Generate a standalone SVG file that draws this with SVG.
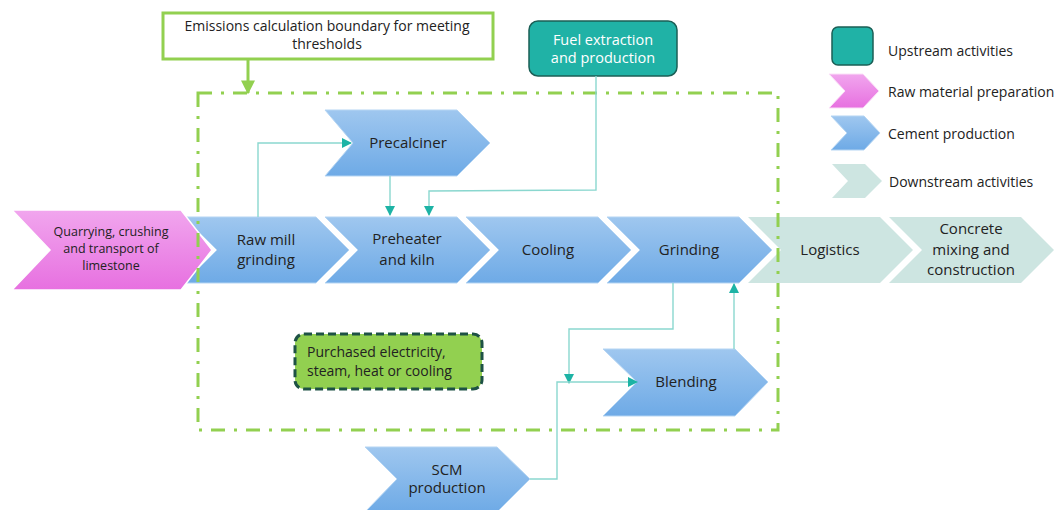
<svg xmlns="http://www.w3.org/2000/svg" width="1059" height="510" viewBox="0 0 1059 510">
<defs>
<linearGradient id="gBlue" x1="0" y1="0" x2="0" y2="1"><stop offset="0" stop-color="#9fc7ef"/><stop offset="1" stop-color="#6eaae6"/></linearGradient>
<linearGradient id="gPink" x1="0" y1="0" x2="0" y2="1"><stop offset="0" stop-color="#f1a6ee"/><stop offset="1" stop-color="#e770e0"/></linearGradient>
<marker id="ah" viewBox="0 0 10 10" refX="9" refY="5" markerWidth="10" markerHeight="10" markerUnits="userSpaceOnUse" orient="auto"><path d="M0,0 L10,5 L0,10 z" fill="#1db3a5"/></marker>
<marker id="gh" viewBox="0 0 10 10" refX="9" refY="5" markerWidth="14" markerHeight="14" markerUnits="userSpaceOnUse" orient="auto"><path d="M0,0 L10,5 L0,10 z" fill="#92d050"/></marker>
<style>
text{font-family:"Open Sans","Noto Sans","Liberation Sans",sans-serif;fill:#222;}
.t{font-size:15px;text-anchor:middle;}
.s{font-size:12.5px;text-anchor:middle;}
.l{font-size:14px;}
.blue{fill:url(#gBlue);stroke:#b5d5f3;stroke-width:1;}
.pink{fill:url(#gPink);stroke:#ffffff;stroke-width:1.5;}
.pinkl{fill:url(#gPink);stroke:#fbe0f8;stroke-width:1;}
.down{fill:#cde5e1;}
.conn{fill:none;stroke:#8ad7cf;stroke-width:1.4;}
</style>
</defs>
<rect width="1059" height="510" fill="#ffffff"/>

<g id="callout">
<rect x="163" y="13" width="330" height="46" fill="#fff" stroke="#92d050" stroke-width="3"/>
<text class="l" x="327" y="31" text-anchor="middle">Emissions calculation boundary for meeting</text>
<text class="l" x="327" y="49" text-anchor="middle">thresholds</text>
<line x1="248" y1="59" x2="248" y2="93" stroke="#92d050" stroke-width="3" marker-end="url(#gh)"/>
</g>

<g id="fuel">
<rect x="529" y="21" width="148" height="55" rx="9" fill="#20b2a6" stroke="#1b5f56" stroke-width="1.5"/>
<text class="l" x="603" y="45" text-anchor="middle" style="fill:#fff;font-size:14.5px">Fuel extraction</text>
<text class="l" x="603" y="63" text-anchor="middle" style="fill:#fff;font-size:14.5px">and production</text>
</g>

<g id="rawmill">
<path class="blue" d="M184,217 L316,217 L349,250 L316,283 L184,283 L217,250 Z"/>
<text class="t" x="266" y="245">Raw mill</text>
<text class="t" x="266" y="265">grinding</text>
</g>

<g id="quarrying">
<path class="pink" d="M12,210 L181,210 L212,250 L181,290 L12,290 L50,250 Z"/>
<text class="s" x="111" y="236">Quarrying, crushing</text>
<text class="s" x="111" y="253">and transport of</text>
<text class="s" x="111" y="270">limestone</text>
</g>

<g id="preheater">
<path class="blue" d="M325,217 L457,217 L490,250 L457,283 L325,283 L358,250 Z"/>
<text class="t" x="407" y="244">Preheater</text>
<text class="t" x="407" y="265">and kiln</text>
</g>

<g id="cooling">
<path class="blue" d="M466,217 L598,217 L631,250 L598,283 L466,283 L499,250 Z"/>
<text class="t" x="548" y="255">Cooling</text>
</g>

<g id="grinding">
<path class="blue" d="M607,217 L739,217 L772,250 L739,283 L607,283 L640,250 Z"/>
<text class="t" x="689" y="255">Grinding</text>
</g>

<g id="logistics">
<path class="down" d="M748,217 L880,217 L913,250 L880,283 L748,283 L781,250 Z"/>
<text class="t" x="830" y="255">Logistics</text>
</g>

<g id="concrete">
<path class="down" d="M889,217 L1021,217 L1054,250 L1021,283 L889,283 L922,250 Z"/>
<text class="t" x="971" y="234">Concrete</text>
<text class="t" x="971" y="255">mixing and</text>
<text class="t" x="971" y="275">construction</text>
</g>

<g id="boundary">
<rect x="198" y="93" width="580" height="337" fill="none" stroke="#92d050" stroke-width="3" stroke-dasharray="14 9 3 9"/>
</g>

<g id="precalciner">
<path class="blue" d="M325,110 L457,110 L490,143 L457,176 L325,176 L353,143 Z"/>
<text class="t" x="408" y="148">Precalciner</text>
</g>

<g id="blending">
<path class="blue" d="M603,349 L735,349 L768,382 L735,416 L603,416 L637,382 Z"/>
<text class="t" x="686" y="387">Blending</text>
</g>

<g id="scm">
<path class="blue" d="M365,447 L497,447 L530,479 L497,512 L365,512 L397,479 Z"/>
<text class="t" x="447" y="475">SCM</text>
<text class="t" x="447" y="493">production</text>
</g>

<g id="purchased">
<rect x="295" y="334" width="187" height="55" rx="9" fill="#92d050" stroke="#1e5245" stroke-width="3" stroke-dasharray="8 4"/>
<text class="l" x="307" y="357">Purchased electricity,</text>
<text class="l" x="307" y="376">steam, heat or cooling</text>
</g>

<g id="legend">
<rect x="832" y="27" width="41" height="38" rx="6" fill="#20b2a6" stroke="#1b5f56" stroke-width="1.5"/>
<text class="l" x="888" y="56">Upstream activities</text>
<path class="pinkl" d="M829,74 L863,74 L879,91 L863,108 L829,108 L845,91 Z"/>
<text class="l" x="888" y="97">Raw material preparation</text>
<path class="blue" d="M831,116 L864,116 L880,133 L864,150 L831,150 L847,133 Z"/>
<text class="l" x="888" y="139">Cement production</text>
<path class="down" d="M832,164 L865,164 L882,181 L865,198 L832,198 L848,181 Z"/>
<text class="l" x="889" y="187">Downstream activities</text>
</g>

<g id="connectors">
<polyline class="conn" points="258,217 258,143 351,143" marker-end="url(#ah)"/>
<polyline class="conn" points="390,176 390,215" marker-end="url(#ah)"/>
<polyline class="conn" points="596,76 596,190 429,191 429,215" marker-end="url(#ah)"/>
<polyline class="conn" points="673,283 673,329 569,329 569,383" marker-end="url(#ah)"/>
<polyline class="conn" points="530,479 557,479 557,382 637,382" marker-end="url(#ah)"/>
<polyline class="conn" points="734,349 734,284" marker-end="url(#ah)"/>
</g>
</svg>
